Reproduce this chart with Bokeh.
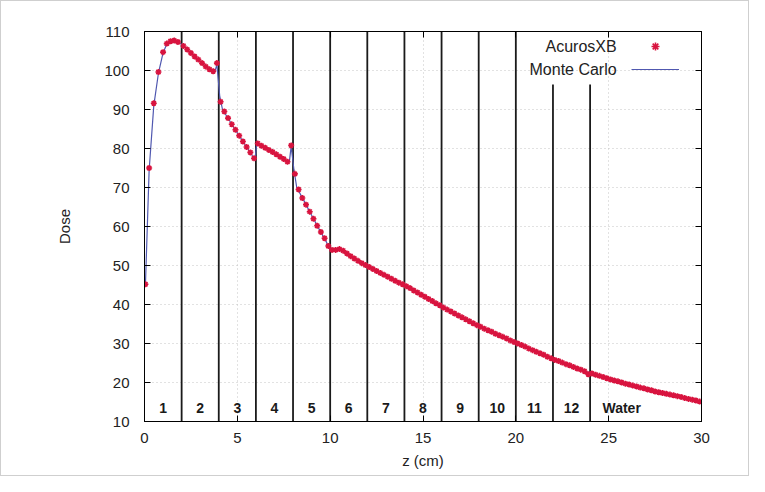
from bokeh.plotting import figure
from bokeh.models import (ColumnDataSource, LinearAxis, FixedTicker, Label, Legend,
                          LegendItem, Range1d)
from bokeh.embed import file_html
from bokeh.resources import INLINE

# ---------------- data ----------------
axb_z = [0.05, 0.25, 0.5, 0.75, 1.0, 1.2, 1.4, 1.6, 1.8,
         2.1, 2.3, 2.5, 2.7, 2.9, 3.1, 3.3, 3.5, 3.7, 3.9,
         4.1, 4.3, 4.5, 4.7, 4.9, 5.1, 5.3, 5.5, 5.7, 5.9,
         6.1, 6.3, 6.5, 6.7, 6.9, 7.1, 7.3, 7.5, 7.7, 7.9,
         8.1, 8.3, 8.5, 8.7, 8.9, 9.1, 9.3, 9.5, 9.7, 9.9,
         10.1, 10.3, 10.5, 10.7, 10.9, 11.1, 11.3, 11.5, 11.7, 11.9,
         12.1, 12.3, 12.5, 12.7, 12.9, 13.1, 13.3, 13.5, 13.7, 13.9,
         14.1, 14.3, 14.5, 14.7, 14.9, 15.1, 15.3, 15.5, 15.7, 15.9,
         16.1, 16.3, 16.5, 16.7, 16.9, 17.1, 17.3, 17.5, 17.7, 17.9,
         18.1, 18.3, 18.5, 18.7, 18.9, 19.1, 19.3, 19.5, 19.7, 19.9,
         20.1, 20.3, 20.5, 20.7, 20.9, 21.1, 21.3, 21.5, 21.7, 21.9,
         22.1, 22.3, 22.5, 22.7, 22.9, 23.1, 23.3, 23.5, 23.7, 23.9,
         24.1, 24.3, 24.5, 24.7, 24.9, 25.1, 25.3, 25.5, 25.7, 25.9,
         26.1, 26.3, 26.5, 26.7, 26.9, 27.1, 27.3, 27.5, 27.7, 27.9,
         28.1, 28.3, 28.5, 28.7, 28.9, 29.1, 29.3, 29.5, 29.7, 29.9]
axb_dose = [45.2, 75.0, 91.6, 99.6, 104.7, 106.9, 107.5, 107.7, 107.3,
            106.3, 105.4, 104.5, 103.6, 102.8, 101.9, 101.0, 100.3, 99.8, 101.9,
            92.0, 89.5, 87.8, 86.2, 84.8, 83.3, 81.8, 80.4, 79.0, 77.5,
            81.3, 80.7, 80.2, 79.6, 79.1, 78.5, 77.9, 77.3, 76.6, 80.8,
            73.5, 69.5, 67.3, 65.6, 63.8, 62.0, 60.2, 58.6, 57.0, 55.0,
            54.0, 54.0, 54.2, 53.8, 53.1, 52.4, 51.8, 51.2, 50.6, 50.1,
            49.6, 49.1, 48.6, 48.1, 47.6, 47.1, 46.6, 46.1, 45.6, 45.2,
            44.7, 44.2, 43.6, 43.1, 42.5, 42.0, 41.4, 40.9, 40.3, 39.8,
            39.2, 38.7, 38.2, 37.7, 37.2, 36.7, 36.2, 35.7, 35.2, 34.7,
            34.3, 33.8, 33.4, 33.0, 32.5, 32.1, 31.7, 31.3, 30.8, 30.4,
            30.0, 29.6, 29.2, 28.7, 28.3, 27.9, 27.5, 27.1, 26.6, 26.2,
            25.8, 25.5, 25.1, 24.7, 24.4, 24.0, 23.6, 23.3, 22.9, 22.1,
            22.3, 22.0, 21.7, 21.4, 21.1, 20.8, 20.5, 20.3, 20.0, 19.7,
            19.5, 19.2, 19.0, 18.7, 18.5, 18.2, 18.0, 17.7, 17.5, 17.3,
            17.1, 16.9, 16.7, 16.5, 16.3, 16.0, 15.8, 15.6, 15.4, 15.1]

mc_z = [0.05, 0.25, 0.5, 0.75, 1.0, 1.2, 1.4, 1.6, 1.8, 2.0, 2.4, 2.8, 3.2, 3.6, 3.8,
        3.9, 4.05, 4.2, 4.6, 5.0, 5.4, 5.8, 5.95, 6.05, 6.4, 6.8, 7.2, 7.6, 7.8, 7.9,
        8.05, 8.2, 8.6, 9.0, 9.4, 9.8, 9.95, 10.2, 10.6, 11.0, 11.5, 12.0, 13.0, 14.0,
        15.0, 16.0, 17.0, 18.0, 19.0, 20.0, 21.0, 22.0, 23.0, 24.0, 25.0, 26.0, 27.0,
        28.0, 29.0, 30.0]
mc_dose = [45.0, 74.5, 91.0, 99.3, 104.5, 106.8, 107.5, 107.7, 107.4, 106.7, 104.9, 103.2,
           101.4, 100.0, 99.9, 101.5, 93.5, 90.0, 87.0, 84.0, 81.1, 78.2, 77.2, 81.6, 80.4,
           79.3, 78.2, 76.9, 76.5, 80.6, 74.5, 70.0, 66.5, 62.9, 59.4, 56.0, 54.3, 54.0,
           54.0, 52.8, 51.2, 49.8, 47.3, 45.0, 42.2, 39.5, 37.0, 34.5, 32.3, 30.2, 28.1,
           26.0, 24.2, 22.4, 20.9, 19.6, 18.4, 17.2, 16.1, 15.0]

boundaries = [2, 4, 6, 8, 10, 12, 14, 16, 18, 20, 22, 24]
layer_names = ["1", "2", "3", "4", "5", "6", "7", "8", "9", "10", "11", "12", "Water"]
layer_centers = [1, 3, 5, 7, 9, 11, 13, 15, 17, 19, 21, 23, 25.7]
x_ticks = [0, 5, 10, 15, 20, 25, 30]
y_ticks = [10, 20, 30, 40, 50, 60, 70, 80, 90, 100, 110]

FONT = "Liberation Sans"
RED = "#d8143f"
BLUE = "#5058b0"

p = figure(width=749, height=476, output_backend="svg", toolbar_location=None,
           x_range=Range1d(0, 30), y_range=Range1d(10, 110),
           min_border_left=143, min_border_right=49, min_border_top=30, min_border_bottom=56,
           x_axis_label="z (cm)", y_axis_label="Dose")
p.styles = {"border": "1px solid #cfcfcf"}
p.outline_line_color = "black"
p.outline_line_width = 1

for ax in (p.xaxis[0], p.yaxis[0]):
    ax.major_tick_in = 6
    ax.major_tick_out = 0
    ax.minor_tick_line_color = None
    ax.major_label_text_font = FONT
    ax.major_label_text_font_size = "15px"
    ax.major_label_text_color = "#222222"
    ax.axis_label_text_font = FONT
    ax.axis_label_text_font_size = "15px"
    ax.axis_label_text_font_style = "normal"
    ax.axis_label_text_color = "#222222"
    ax.axis_line_color = "black"
    ax.major_tick_line_color = "black"
p.xaxis[0].ticker = FixedTicker(ticks=x_ticks)
p.yaxis[0].ticker = FixedTicker(ticks=y_ticks)
p.xaxis[0].major_label_standoff = 11
p.xaxis[0].axis_label_standoff = 6
p.yaxis[0].major_label_standoff = 15
p.yaxis[0].axis_label_standoff = 28

# mirrored ticks on right and top
for loc, ticks in (("right", y_ticks), ("above", x_ticks)):
    ax = LinearAxis(ticker=FixedTicker(ticks=ticks), major_tick_in=6, major_tick_out=0,
                    minor_tick_line_color=None, major_label_text_font_size="0px",
                    major_label_text_color=None, axis_line_color="black")
    p.add_layout(ax, loc)

p.xgrid.ticker = FixedTicker(ticks=x_ticks)
p.ygrid.ticker = FixedTicker(ticks=y_ticks)
for g in (p.xgrid[0], p.ygrid[0]):
    g.grid_line_color = "#c4c4c4"
    g.grid_line_dash = "1 3"
    g.grid_line_width = 1

# layer boundaries (the last two stop below the key)
b_top = [110 if b <= 20 else 96.4 for b in boundaries]
b_src = ColumnDataSource(dict(x=boundaries, y0=[10] * len(boundaries), y1=b_top))
p.segment(x0="x", y0="y0", x1="x", y1="y1", source=b_src, line_color="#1a1a1a", line_width=1.8)

# data
mc_r = p.line(mc_z, mc_dose, line_color=BLUE, line_width=1.2)
axb_r = p.scatter(axb_z, axb_dose, marker="asterisk", size=6, line_color=RED, line_width=1.6)

# layer labels
lab_src = ColumnDataSource(dict(x=layer_centers, y=[13.4] * len(layer_centers), t=layer_names))
p.text(x="x", y="y", text="t", source=lab_src, text_align="center", text_baseline="middle",
       text_font_size="14px", text_font_style="bold", text_color="#1a1a1a",
       text_font={"value": FONT})

# key: gnuplot style (text right-aligned, sample on the right)
legend = Legend(items=[LegendItem(label=" ", renderers=[axb_r]),
                       LegendItem(label=" ", renderers=[mc_r])],
                location=(487, 342), glyph_width=48, glyph_height=20, spacing=3,
                padding=0, margin=0, label_standoff=0, label_width=0, label_height=20,
                border_line_color=None, background_fill_alpha=0)
p.add_layout(legend, "center")
for txt, yy in (("AcurosXB", 106.2), ("Monte Carlo", 100.3)):
    p.add_layout(Label(x=25.43, y=yy, text=txt, text_align="right", text_baseline="middle",
                       text_font=FONT, text_font_size="16px", text_color="#222222"))

open("out.html", "w").write(file_html(p, INLINE))
